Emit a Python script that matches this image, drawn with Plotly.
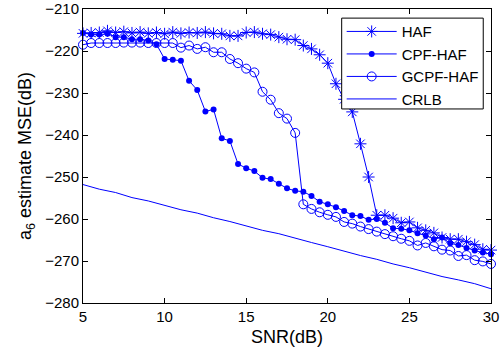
import plotly.graph_objects as go

snr = [5, 5.5, 6, 6.5, 7, 7.5, 8, 8.5, 9, 9.5, 10, 10.5, 11, 11.5, 12, 12.5,
       13, 13.5, 14, 14.5, 15, 15.5, 16, 16.5, 17, 17.5, 18, 18.5, 19, 19.5,
       20, 20.5, 21, 21.5, 22, 22.5, 23, 23.5, 24, 24.5, 25, 25.5, 26, 26.5,
       27, 27.5, 28, 28.5, 29, 29.5, 30]

haf = [-215.8, -215.7, -215.6, -215.2, -215.6, -215.4, -215.7, -215.5, -215.8, -215.6,
       -215.9, -215.5, -215.8, -215.6, -215.7, -215.5, -215.8, -215.9, -216.4, -216.4,
       -215.6, -215.5, -215.9, -216.1, -216.7, -217.2, -217.3, -218.7, -219.5, -220.9,
       -222.9, -227.8, -231.5, -234.5, -242.1, -250.0, -259.1, -259.1, -259.8, -260.9,
       -260.7, -262.1, -262.7, -263.3, -264.4, -264.8, -264.8, -265.4, -266.1, -267.2,
       -267.4]

cpf_haf = [-215.7, -216.1, -216.1, -215.9, -216.7, -216.7, -217.2, -217.2, -217.5, -218.4,
           -221.9, -222.1, -222.3, -227.1, -229.3, -234.4, -233.9, -240.8, -241.4, -246.9,
           -247.9, -248.6, -250.2, -250.5, -251.6, -252.7, -253.3, -253.5, -254.5, -255.9,
           -256.5, -257.2, -258.1, -259.1, -259.3, -260.2, -260.0, -260.9, -262.2, -262.3,
           -262.7, -263.4, -263.9, -264.8, -264.4, -265.8, -266.2, -266.9, -267.5, -268.0,
           -268.4]

gcpf_haf = [-218.5, -218.1, -218.1, -218.1, -218.1, -218.0, -218.0, -218.0, -218.1, -218.1,
            -218.1, -218.1, -219.2, -218.7, -219.5, -219.1, -220.3, -220.3, -221.9, -222.9,
            -224.2, -225.1, -229.7, -231.6, -234.8, -236.1, -239.5, -256.5, -257.6, -258.4,
            -259.0, -259.5, -260.7, -261.1, -261.8, -262.4, -263.0, -263.6, -264.1, -264.7,
            -265.2, -266.3, -265.7, -266.5, -267.3, -267.5, -268.8, -268.6, -269.8, -270.1,
            -270.7]

snr_crlb = [5, 6, 7, 8, 9, 10, 11, 12, 13, 14, 15, 16, 17, 18, 19, 20, 21, 22, 23, 24,
            25, 26, 27, 28, 29, 30]
crlb = [-251.8, -252.9, -253.7, -254.9, -255.7, -256.7, -257.8, -258.6, -259.7, -260.6,
        -261.6, -262.7, -263.5, -264.6, -265.6, -266.6, -267.7, -268.7, -269.6, -270.7,
        -271.6, -272.6, -273.7, -274.5, -275.4, -276.6]

x_ticks = [5, 10, 15, 20, 25, 30]
y_ticks = [-280, -270, -260, -250, -240, -230, -220, -210]

BLUE = "#0000ff"
FONT = "Liberation Sans, Arial, sans-serif"

fig = go.Figure()
fig.add_trace(go.Scatter(
    x=snr, y=haf, name="HAF", mode="lines+markers", cliponaxis=False,
    line=dict(color=BLUE, width=1),
    marker=dict(symbol="asterisk-open", size=10, color=BLUE,
                line=dict(color=BLUE, width=1)),
))
fig.add_trace(go.Scatter(
    x=snr, y=cpf_haf, name="CPF-HAF", mode="lines+markers", cliponaxis=False,
    line=dict(color=BLUE, width=1),
    marker=dict(symbol="circle", size=6, color=BLUE, line=dict(width=0)),
))
fig.add_trace(go.Scatter(
    x=snr, y=gcpf_haf, name="GCPF-HAF", mode="lines+markers", cliponaxis=False,
    line=dict(color=BLUE, width=1),
    marker=dict(symbol="circle-open", size=9, color=BLUE,
                line=dict(color=BLUE, width=1)),
))
fig.add_trace(go.Scatter(
    x=snr_crlb, y=crlb, name="CRLB", mode="lines",
    line=dict(color=BLUE, width=1),
))

axis_common = dict(
    showline=True, linecolor="black", linewidth=1, mirror="ticks",
    ticks="inside", ticklen=5, tickcolor="black", tickwidth=1,
    showgrid=False, zeroline=False, automargin=False,
    tickfont=dict(family=FONT, size=15, color="black"),
)

fig.update_layout(
    width=504, height=354,
    margin=dict(l=83, r=13, t=9, b=51),
    paper_bgcolor="white", plot_bgcolor="white",
    font=dict(family=FONT, color="black"),
    showlegend=True,
    legend=dict(
        x=0.634, y=0.979, xanchor="left", yanchor="top",
        bgcolor="rgba(0,0,0,0)", borderwidth=0,
        font=dict(family=FONT, size=15, color="black"),
        itemwidth=50, tracegroupgap=0,
    ),
    shapes=[dict(
        type="rect", xref="paper", yref="paper",
        x0=0.634, x1=0.981, y0=0.660, y1=0.969,
        fillcolor="white", line=dict(color="black", width=1), layer="above",
    )],
    xaxis=dict(
        range=[5, 30], tickvals=x_ticks,
        title=dict(text="SNR(dB)", font=dict(family=FONT, size=18), standoff=6),
        **axis_common,
    ),
    yaxis=dict(
        range=[-280, -210], tickvals=y_ticks,
        title=dict(text="a<sub>6</sub> estimate MSE(dB)", font=dict(family=FONT, size=18), standoff=8),
        **axis_common,
    ),
)

fig.write_html("out.html", config={"displayModeBar": False},
               post_script="document.body.style.margin='0';")
